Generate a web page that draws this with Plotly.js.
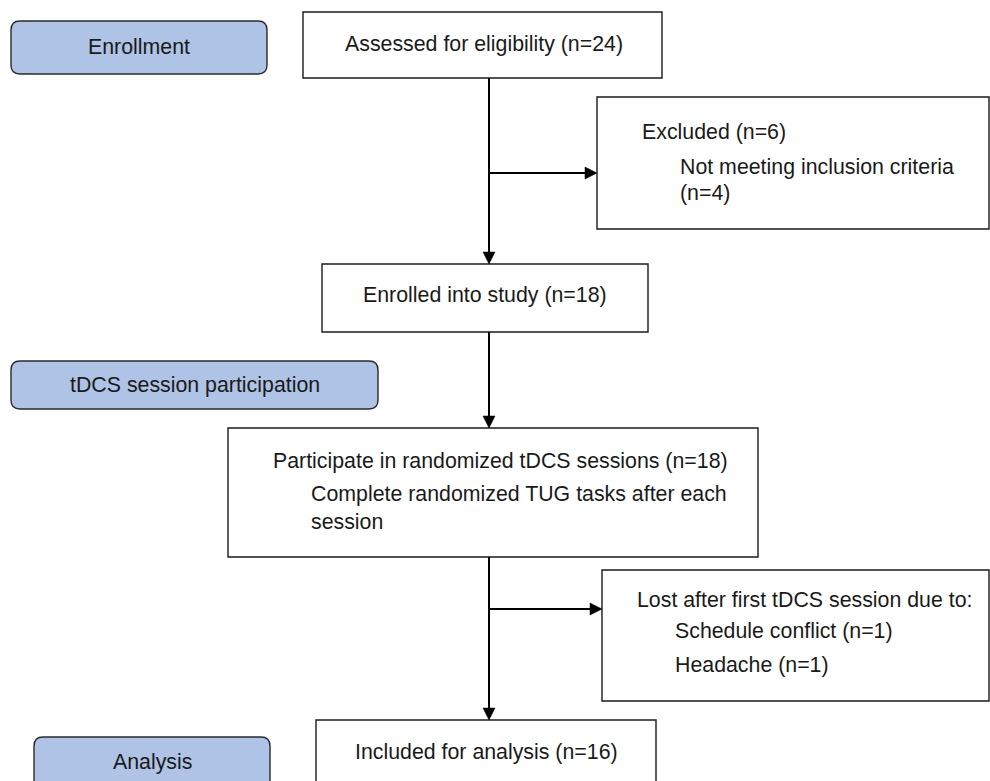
<!DOCTYPE html>
<html>
<head>
<meta charset="utf-8">
<script src="https://cdn.plot.ly/plotly-3.0.1.min.js"></script>
<style>html,body{margin:0;padding:0;background:#fff;}#chart{width:990px;height:781px;}</style>
</head>
<body>
<div id="chart"></div>
<script>
// ---- Data (texts and counts) ----
const stageLabels = ["Enrollment", "tDCS session participation", "Analysis"];
const flowLabels = [
  "Assessed for eligibility (n=24)",
  "Enrolled into study (n=18)",
  "Participate in randomized tDCS sessions (n=18)",
  "Included for analysis (n=16)"
];
const flowSubLines = ["Complete randomized TUG tasks after each", "session"];
const excludedLines = ["Excluded (n=6)", "Not meeting inclusion criteria", "(n=4)"];
const lostLines = ["Lost after first tDCS session due to:", "Schedule conflict (n=1)", "Headache (n=1)"];

// ---- Geometry (positions / sizes, in pixel-like axis units) ----
const stageBoxes = [
  {x0: 11, x1: 267, y0: 21, y1: 74},
  {x0: 11, x1: 378, y0: 361, y1: 409},
  {x0: 34, x1: 270, y0: 737, y1: 800}
];
const flowBoxes = [
  {x0: 303, x1: 662, y0: 12, y1: 78},
  {x0: 322, x1: 648, y0: 264, y1: 332},
  {x0: 228, x1: 758, y0: 428, y1: 557},
  {x0: 316, x1: 656, y0: 720, y1: 800}
];
const sideBoxes = [
  {x0: 597, x1: 989, y0: 97, y1: 229},
  {x0: 602, x1: 989, y0: 570, y1: 701}
];
const spineX = 489;

const FONT = "Liberation Sans, Arial, Helvetica, sans-serif";
const FS = 21.33;
const TXT = "#1a1a1a";

const shapes = [];
const annotations = [];

function roundRect(b, r) {
  return `M ${b.x0 + r},${b.y0} L ${b.x1 - r},${b.y0} Q ${b.x1},${b.y0} ${b.x1},${b.y0 + r} ` +
         `L ${b.x1},${b.y1 - r} Q ${b.x1},${b.y1} ${b.x1 - r},${b.y1} L ${b.x0 + r},${b.y1} ` +
         `Q ${b.x0},${b.y1} ${b.x0},${b.y1 - r} L ${b.x0},${b.y0 + r} Q ${b.x0},${b.y0} ${b.x0 + r},${b.y0} Z`;
}

const stageTextY = [47, 385, 762];
stageBoxes.forEach((b, i) => {
  shapes.push({type: "path", xref: "x", yref: "y", path: roundRect(b, 9),
    fillcolor: "#aec3e5", line: {color: "#2a2a2a", width: 1.4}});
  annotations.push({x: (b.x0 + b.x1) / 2, y: stageTextY[i], xref: "x", yref: "y", text: stageLabels[i],
    showarrow: false, xanchor: "center", yanchor: "middle", font: {family: FONT, size: FS, color: TXT}});
});

flowBoxes.concat(sideBoxes).forEach(b => {
  shapes.push({type: "rect", xref: "x", yref: "y", x0: b.x0, x1: b.x1, y0: b.y0, y1: b.y1,
    fillcolor: "rgba(255,255,255,0)", line: {color: "#1a1a1a", width: 1.4}});
});

function vArrow(x, y0, y1) {
  shapes.push({type: "line", xref: "x", yref: "y", x0: x, x1: x, y0: y0, y1: y1 - 8, line: {color: "#000", width: 2}});
  shapes.push({type: "path", xref: "x", yref: "y", path: `M ${x - 6},${y1 - 12} L ${x + 6},${y1 - 12} L ${x},${y1} Z`,
    fillcolor: "#000", line: {color: "#000", width: 0.5}});
}
function hArrow(y, x0, x1) {
  shapes.push({type: "line", xref: "x", yref: "y", x0: x0, x1: x1 - 8, y0: y, y1: y, line: {color: "#000", width: 2}});
  shapes.push({type: "path", xref: "x", yref: "y", path: `M ${x1 - 12},${y - 6} L ${x1 - 12},${y + 6} L ${x1},${y} Z`,
    fillcolor: "#000", line: {color: "#000", width: 0.5}});
}

vArrow(spineX, flowBoxes[0].y1, flowBoxes[1].y0);
hArrow(173, spineX, sideBoxes[0].x0);
vArrow(spineX, flowBoxes[1].y1, flowBoxes[2].y0);
vArrow(spineX, flowBoxes[2].y1, flowBoxes[3].y0);
hArrow(609, spineX, sideBoxes[1].x0);

// main flow texts
const flowTextY = [44, 295, 461, 752];
flowBoxes.forEach((b, i) => {
  if (i === 2) {
    annotations.push({x: 271, y: flowTextY[i], xref: "x", yref: "y", text: flowLabels[i], showarrow: false,
      xanchor: "left", yanchor: "middle", font: {family: FONT, size: FS, color: TXT}});
  } else if (i === 0) {
    annotations.push({x: 343, y: flowTextY[i], xref: "x", yref: "y", text: flowLabels[i], showarrow: false,
      xanchor: "left", yanchor: "middle", font: {family: FONT, size: FS, color: TXT}});
  } else {
    annotations.push({x: (b.x0 + b.x1) / 2, y: flowTextY[i], xref: "x", yref: "y", text: flowLabels[i], showarrow: false,
      xanchor: "center", yanchor: "middle", font: {family: FONT, size: FS, color: TXT}});
  }
});
const subY = [494, 522];
flowSubLines.forEach((t, i) => {
  annotations.push({x: 309, y: subY[i], xref: "x", yref: "y", text: t, showarrow: false,
    xanchor: "left", yanchor: "middle", font: {family: FONT, size: FS, color: TXT}});
});

const exX = [640, 678, 678], exY = [132, 167, 193];
excludedLines.forEach((t, i) => {
  annotations.push({x: exX[i], y: exY[i], xref: "x", yref: "y", text: t, showarrow: false,
    xanchor: "left", yanchor: "middle", font: {family: FONT, size: FS, color: TXT}});
});
const lostX = [635, 673, 673], lostY = [600, 631, 665];
lostLines.forEach((t, i) => {
  annotations.push({x: lostX[i], y: lostY[i], xref: "x", yref: "y", text: t, showarrow: false,
    xanchor: "left", yanchor: "middle", font: {family: FONT, size: FS, color: TXT}});
});

const layout = {
  width: 990, height: 781,
  margin: {l: 0, r: 0, t: 0, b: 0, pad: 0},
  paper_bgcolor: "#ffffff", plot_bgcolor: "#ffffff",
  xaxis: {range: [0, 990], visible: false, fixedrange: true},
  yaxis: {range: [781, 0], visible: false, fixedrange: true},
  showlegend: false,
  shapes: shapes,
  annotations: annotations
};

Plotly.newPlot("chart", [], layout, {displayModeBar: false, staticPlot: true});
</script>
</body>
</html>
